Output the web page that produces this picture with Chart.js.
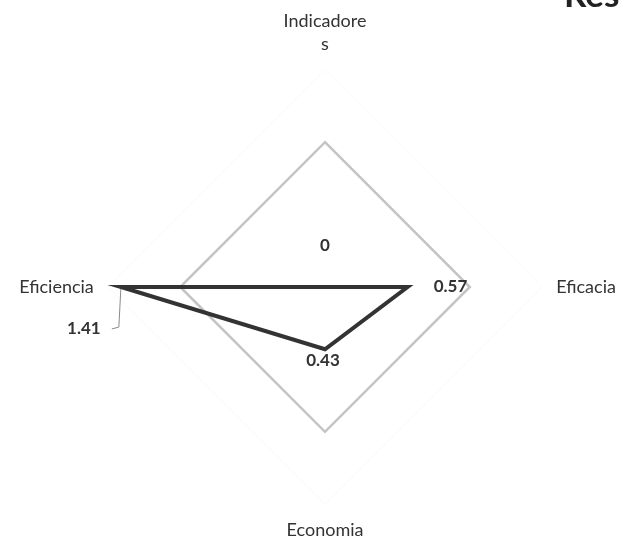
<!DOCTYPE html>
<html>
<head>
<meta charset="utf-8">
<script src="https://cdn.jsdelivr.net/npm/chart.js@4.4.1/dist/chart.umd.min.js"></script>
<style>
    html, body { margin: 0; padding: 0; background: #ffffff; overflow: hidden; width: 621px; height: 545px; }
    #radar_resultados { position: absolute; left: 0; top: -3px; }
</style>
</head>
<body>
<canvas id="radar_resultados" width="632" height="557"></canvas>
<script>
const axisLabels = [['Indicadore', 's'], 'Eficacia', 'Economia', 'Eficiencia'];
const resultValues = [0, 0.57, 0.43, 1.41];
const valueTexts = ['0', '0.57', '0.43', '1.41'];
const chartTitle = 'Resultados';

// where each value label sits, relative to its point
const labelOffsets = [[0, -41], [43, 0], [-2, 11], [-37, 42]];

const valueLabelsPlugin = {
    id: 'valueLabels',
    afterDatasetsDraw(chart) {
        const ctx = chart.ctx;
        const meta = chart.getDatasetMeta(0);
        ctx.save();
        ctx.font = 'bold 17px Lato';
        ctx.fillStyle = '#333333';
        ctx.textAlign = 'center';
        ctx.textBaseline = 'middle';
        meta.data.forEach(function (point, i) {
            const [dx, dy] = labelOffsets[i];
            if (i === 3) {
                // leader line for the label that was moved away
                ctx.strokeStyle = '#8a8a8a';
                ctx.lineWidth = 1;
                ctx.beginPath();
                ctx.moveTo(point.x, point.y + 2);
                ctx.lineTo(point.x - 2, point.y + dy - 2);
                ctx.lineTo(point.x + dx + 28, point.y + dy);
                ctx.stroke();
            }
            ctx.fillText(valueTexts[i], point.x + dx, point.y + dy);
        });
        // title, cut off by the top right corner like on the scan
        ctx.font = 'bold 35px Lato';
        ctx.textAlign = 'left';
        ctx.textBaseline = 'alphabetic';
        ctx.fillStyle = '#222222';
        ctx.fillText(chartTitle, 564, 10);
        ctx.restore();
    }
};

const radarElement = document.getElementById('radar_resultados').getContext('2d');
const radarChart = new Chart(radarElement, {
    type: 'radar',
    data: {
        labels: axisLabels,
        datasets: [{
            label: chartTitle,
            data: resultValues,
            fill: false,
            borderColor: '#333333',
            borderWidth: 4,
            borderJoinStyle: 'miter',
            pointRadius: 0,
            pointHoverRadius: 0
        }]
    },
    options: {
        responsive: false,
        animation: false,
        layout: {
            padding: {left: 4, right: 0, top: 0, bottom: 0}
        },
        plugins: {
            legend: {display: false},
            tooltip: {enabled: false}
        },
        scales: {
            r: {
                min: 0,
                max: 1.5,
                ticks: {display: false, stepSize: 0.5},
                angleLines: {display: false},
                grid: {
                    color: function (context) {
                        if (context.tick.value === 1) return '#c4c4c4';
                        if (context.tick.value === 1.5) return '#f9f9f9';
                        return 'rgba(0,0,0,0)';
                    },
                    lineWidth: function (context) {
                        return context.tick.value === 1 ? 2.5 : 1;
                    }
                },
                pointLabels: {
                    padding: 14,
                    color: '#333333',
                    font: {family: 'Lato', size: 18, lineHeight: 1.3}
                }
            }
        }
    },
    plugins: [valueLabelsPlugin]
});
</script>
</body>
</html>
